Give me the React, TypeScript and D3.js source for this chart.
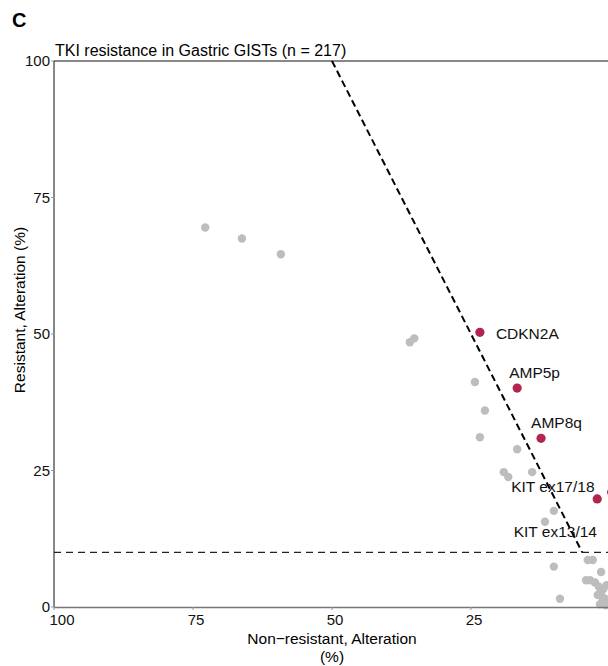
import React, { useEffect, useRef } from "react";
import * as d3 from "d3";

// gray points: [non-resistant %, resistant %]
const grayX = [72.8, 66.2, 59.2, 36.0, 35.2, 24.3, 22.5, 23.4, 16.7, 19.1, 18.3, 14.0, 10.1, 11.7, 10.1, 9.0, 3.1, 4.0, 1.6, 4.3, 3.6, 2.7, 2.0, 1.6, 1.4, 1.1, 1.8, 0.8, 2.2, 0.6, 1.2, 0.9];
const grayY = [69.5, 67.5, 64.6, 48.5, 49.2, 41.2, 36.0, 31.1, 28.9, 24.7, 23.8, 24.7, 17.6, 15.6, 7.4, 1.5, 8.6, 8.6, 6.4, 4.9, 4.9, 4.5, 3.7, 2.8, 1.8, 1.0, 0.5, 0.3, 2.2, 4.0, 3.3, 1.5];

// highlighted genes
const genes = ["CDKN2A", "AMP5p", "AMP8q", "KIT ex17/18", "KIT ex13/14"];
const geneX = [23.4, 16.7, 12.4, 2.3, -0.3];
const geneY = [50.3, 40.1, 30.9, 19.8, 21.0];

const xTicks = [100, 75, 50, 25, 0];
const yTicks = [0, 25, 50, 75, 100];

const W = 608, H = 666;

export default function App() {
  const ref = useRef<SVGSVGElement>(null);

  useEffect(() => {
    const svg = d3.select(ref.current);
    svg.selectAll("*").remove();
    const font = "'Liberation Sans', Arial, sans-serif";

    const x = d3.scaleLinear().domain([100, 0]).range([54, 610]);
    const y = d3.scaleLinear().domain([0, 100]).range([607, 61]);

    svg.append("text").attr("x", 12).attr("y", 27).text("C")
      .attr("font-family", font).attr("font-weight", "bold").attr("font-size", 20);

    svg.append("text").attr("x", 55).attr("y", 56)
      .text("TKI resistance in Gastric GISTs (n = 217)")
      .attr("font-family", font).attr("font-size", 16);

    // frame
    svg.append("line").attr("x1", x(100)).attr("x2", W).attr("y1", y(100)).attr("y2", y(100))
      .attr("stroke", "#111").attr("stroke-width", 1);
    svg.append("line").attr("x1", x(100)).attr("x2", x(100)).attr("y1", y(100)).attr("y2", y(0))
      .attr("stroke", "#111").attr("stroke-width", 1);

    // threshold lines
    svg.append("line").attr("x1", x(100)).attr("x2", W).attr("y1", y(10)).attr("y2", y(10))
      .attr("stroke", "#222").attr("stroke-width", 1.1).attr("stroke-dasharray", "7,5");
    svg.append("line").attr("x1", x(50)).attr("y1", y(100)).attr("x2", x(5)).attr("y2", y(10))
      .attr("stroke", "#000").attr("stroke-width", 2).attr("stroke-dasharray", "7,4");

    // points
    const g = svg.append("g");
    g.selectAll("circle.gray").data(grayX).join("circle").attr("class", "gray")
      .attr("cx", (d) => x(d)).attr("cy", (d, i) => y(grayY[i])).attr("r", 4.2)
      .attr("fill", "#bdbdbd");
    g.selectAll("circle.gene").data(genes).join("circle").attr("class", "gene")
      .attr("cx", (d, i) => x(geneX[i])).attr("cy", (d, i) => y(geneY[i])).attr("r", 4.6)
      .attr("fill", "#b3244f");

    // gene labels (repelled by hand)
    const off = [[16, 7], [-8, -10], [-10, -10], [-86, -7], [-98, 45]];
    svg.selectAll("text.lab").data(genes).join("text").attr("class", "lab")
      .attr("x", (d, i) => x(geneX[i]) + off[i][0]).attr("y", (d, i) => y(geneY[i]) + off[i][1])
      .text((d) => d).attr("font-family", font).attr("font-size", 15.5).attr("fill", "#111");

    // bottom axis line
    svg.append("line").attr("x1", x(100)).attr("x2", W).attr("y1", y(0) + 0.5).attr("y2", y(0) + 0.5)
      .attr("stroke", "#777").attr("stroke-width", 1.6);

    // x ticks
    svg.selectAll("line.xt").data(xTicks).join("line").attr("class", "xt")
      .attr("x1", (d) => x(d)).attr("x2", (d) => x(d)).attr("y1", y(0)).attr("y2", y(0) + 3)
      .attr("stroke", "#999");
    svg.selectAll("text.xt").data(xTicks.filter((d) => d > 0)).join("text").attr("class", "xt")
      .attr("x", (d) => x(d) + (d === 100 ? 8 : 3)).attr("y", y(0) + 18).attr("text-anchor", "middle")
      .text((d) => d).attr("font-family", font).attr("font-size", 15).attr("fill", "#111");

    // y ticks
    svg.selectAll("line.yt").data(yTicks).join("line").attr("class", "yt")
      .attr("x1", x(100) - 3).attr("x2", x(100)).attr("y1", (d) => y(d)).attr("y2", (d) => y(d))
      .attr("stroke", "#999");
    svg.selectAll("text.yt").data(yTicks).join("text").attr("class", "yt")
      .attr("x", x(100) - 4).attr("y", (d) => y(d) + 5).attr("text-anchor", "end")
      .text((d) => d).attr("font-family", font).attr("font-size", 15).attr("fill", "#111");

    // axis titles
    svg.append("text").attr("x", 332).attr("y", 644).attr("text-anchor", "middle")
      .text("Non\u2212resistant, Alteration").attr("font-family", font).attr("font-size", 15.5);
    svg.append("text").attr("x", 332).attr("y", 662).attr("text-anchor", "middle")
      .text("(%)").attr("font-family", font).attr("font-size", 15.5);
    svg.append("text").attr("transform", "translate(25, 310) rotate(-90)")
      .attr("text-anchor", "middle").text("Resistant, Alteration (%)")
      .attr("font-family", font).attr("font-size", 15.5);
  }, []);

  return (
    <svg ref={ref} width={W} height={H}
      style={{ position: "absolute", left: 0, top: 0, background: "#fff" }} />
  );
}
